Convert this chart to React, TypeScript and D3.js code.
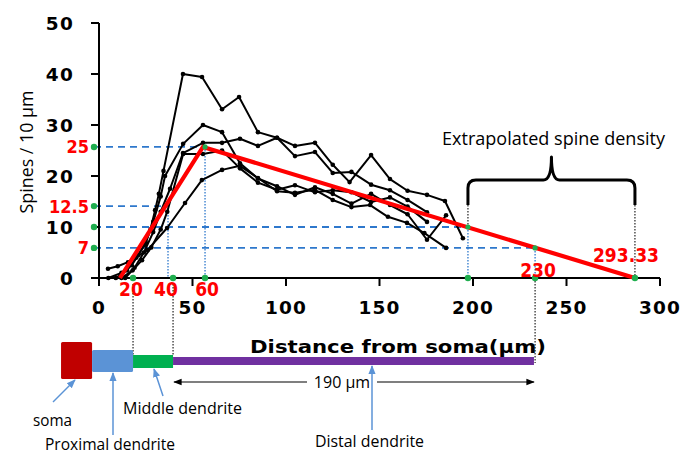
import React from 'react';
import * as d3 from 'd3';

type P = [number, number];

const xTicks = [0, 50, 100, 150, 200, 250, 300];
const yTicks = [0, 10, 20, 30, 40, 50];

const seriesA: P[] = [[5, 0], [12, 1], [17.5, 2.5], [21, 4.5], [24.5, 6.5], [27.5, 9.5], [30, 13.3], [32, 16.5], [34.5, 21], [44.9, 40], [55.1, 39.4], [65.8, 33.1], [74.9, 35.5], [85, 28.6], [95.2, 27.5], [104.8, 25.9], [115.5, 26.5], [125, 22.2], [134, 18.8], [145.5, 24.1], [155.6, 19.4], [165, 17.1], [175.4, 16.3], [185, 15.1], [194.6, 7.8]];
const seriesB: P[] = [[9, 0], [15, 1.5], [20, 4], [25, 7], [29, 11], [33, 16], [35.3, 20], [45, 26.3], [55.6, 30], [65.8, 28.6], [75.4, 22.5], [85, 19.5], [95.2, 18], [104.8, 16.3], [115.5, 17.8], [125, 16.5], [135, 14.6], [145.5, 16.5], [155.6, 14.3], [165, 12.5], [175.4, 7.5], [185.6, 12.3]];
const seriesC: P[] = [[14, 0], [19, 2], [24, 5], [29, 9], [33, 13], [38, 17.5], [44.9, 24.5], [55.6, 26.5], [65.8, 26.5], [75.4, 27.3], [85, 25.9], [95.2, 27.5], [104.8, 23.9], [115.5, 24.7], [125, 20.6], [135, 20.8], [145.5, 18.3], [155.6, 17.2], [165, 15.3], [175.4, 12.9]];
const seriesD: P[] = [[12, 0], [18, 1.5], [23, 3.5], [28, 6], [33, 9.5], [36.5, 13], [45, 24.3], [55.6, 24.3], [65.8, 25], [75.4, 21.5], [85, 18.7], [95.2, 17.3], [104.8, 18.2], [115.5, 16.8], [125, 17.2], [135, 16.8], [145.5, 14.9], [155.6, 15.8], [165, 14], [175.4, 11]];
const seriesE: P[] = [[4.8, 1.8], [10, 2.3], [15.5, 3.1], [26, 5.5], [36.4, 9.8], [46, 14.7], [55, 19.2], [65.8, 21.2], [75.4, 22], [85, 19.6], [95.2, 17], [104.8, 16.7], [115.5, 17.3], [125, 15.3], [135, 13.9], [145, 14.3], [154.5, 12], [164.7, 10.8], [174, 8.8], [185.6, 5.9]];
const allSeries = [seriesA, seriesB, seriesC, seriesD, seriesE];

const fitPoints: P[] = [[11.2, 0], [55.6, 25.7], [286.6, 0]];

const levelValues = [25.7, 14.1, 10, 5.9];
const levelLabels = ['25', '12.5', '', '7'];
const levelEnds = [55.6, 36.9, 197.3, 233.2];

const dropX = [36.9, 56.7, 197.3, 233.2];
const dropTop = [14.1, 25.7, 10, 5.9];

const axisDots = [18.2, 39.6, 56.7, 197.3, 233.2, 286.6];
const fitDots: P[] = [[56.7, 25.7], [197.3, 10], [233.2, 5.9]];

const markLabels = ['20', '40', '60', '230', '293.33'];
const markLabelX = [17.1, 35.8, 57.8, 234.8, 281.8];
const markLabelY = [-3.5, -3.5, -3.5, 0.2, 3.1];

const bracketFrom = 197.3;
const bracketTo = 286.6;

const segNames = ['soma', 'Proximal dendrite', 'Middle dendrite', 'Distal dendrite'];
const segFrom = [-20.3, -3.7, 18.2, 39.6];
const segTo = [-3.7, 18.2, 39.6, 232.6];
const segColors = ['#c00000', '#5b93d6', '#00b050', '#7030a0'];

export default function App() {
  const x = d3.scaleLinear().domain([0, 300]).range([99, 660]);
  const y = d3.scaleLinear().domain([0, 50]).range([278, 23]);
  const line = d3.line<P>().x(d => x(d[0])).y(d => y(d[1]));
  const blue = '#2e78cc';
  const green = '#1fae4e';
  const red = '#ff0000';
  const narrow = "'Liberation Sans Narrow', 'DejaVu Sans Condensed', 'Liberation Sans', sans-serif";
  const bold = "'DejaVu Sans', Verdana, sans-serif";
  const plain = "'Open Sans', 'Noto Sans', sans-serif";

  const bx0 = x(bracketFrom);
  const bx1 = x(bracketTo);
  const bm = (bx0 + bx1) / 2;
  const bY = 180;
  const bEnd = 205;
  const bTop = 157;
  const bracket = `M${bx0},${bEnd} V${bY + 8} Q${bx0},${bY} ${bx0 + 8},${bY} H${bm - 8} Q${bm},${bY} ${bm},${bTop} Q${bm},${bY} ${bm + 8},${bY} H${bx1 - 8} Q${bx1},${bY} ${bx1},${bY + 8} V${bEnd}`;

  const segTop = [342, 350, 355, 357];
  const segBot = [379, 372, 368, 365];

  return (
    <svg width={683} height={455} style={{ position: 'absolute', left: 0, top: 0, background: '#fff' }}>
      <defs>
        <marker id="ab" viewBox="0 0 10 10" refX="9" refY="5" markerWidth="7" markerHeight="7" orient="auto-start-reverse">
          <path d="M0,1 L10,5 L0,9 z" fill="#000" />
        </marker>
        <marker id="au" viewBox="0 0 10 10" refX="9" refY="5" markerWidth="6" markerHeight="6" orient="auto">
          <path d="M0,1 L10,5 L0,9 z" fill="#5b93d6" />
        </marker>
      </defs>

      {levelValues.map((v, i) => (
        <line key={'h' + i} x1={94} x2={x(levelEnds[i])} y1={y(v)} y2={y(v)} stroke={blue} strokeWidth={1.8} strokeDasharray="7,5" />
      ))}
      {dropX.map((d, i) => (
        <line key={'v' + i} x1={x(d)} x2={x(d)} y1={y(dropTop[i])} y2={y(0)} stroke={blue} strokeWidth={1.3} strokeDasharray="1.5,1.5" />
      ))}

      <line x1={bx0} x2={bx0} y1={bEnd} y2={y(10)} stroke="#222" strokeWidth={1.2} strokeDasharray="1.5,1.5" />
      <line x1={bx1} x2={bx1} y1={bEnd} y2={y(0)} stroke="#222" strokeWidth={1.2} strokeDasharray="1.5,1.5" />
      <line x1={x(233.2)} x2={x(233.2)} y1={y(0)} y2={363} stroke="#222" strokeWidth={1.2} strokeDasharray="1.5,1.5" />
      <line x1={x(18.2)} x2={x(18.2)} y1={284} y2={355} stroke="#222" strokeWidth={1.2} strokeDasharray="1.5,1.5" />
      <line x1={x(39.6)} x2={x(39.6)} y1={284} y2={355} stroke="#222" strokeWidth={1.2} strokeDasharray="1.5,1.5" />

      <line x1={99} x2={99} y1={y(50)} y2={y(0)} stroke="#000" strokeWidth={2} />
      <line x1={98} x2={x(300)} y1={y(0)} y2={y(0)} stroke="#000" strokeWidth={2} />
      {yTicks.map(t => (
        <g key={'yt' + t}>
          <line x1={91} x2={99} y1={y(t)} y2={y(t)} stroke="#000" strokeWidth={2} />
          <text x={74} y={y(t)} dy="0.36em" textAnchor="end" fontFamily={bold} fontWeight="bold" fontSize={18.5} fill="#000" letterSpacing={1.2}>{t}</text>
        </g>
      ))}
      {xTicks.map(t => (
        <g key={'xt' + t}>
          <line x1={x(t)} x2={x(t)} y1={y(0)} y2={y(0) + 8} stroke="#000" strokeWidth={2} />
          <text x={x(t)} y={314} textAnchor="middle" fontFamily={bold} fontWeight="bold" fontSize={18.5} fill="#000" letterSpacing={1.2}>{t}</text>
        </g>
      ))}
      <text transform="translate(33,152) rotate(-90)" textAnchor="middle" fontFamily={plain} fontSize={17.5} fill="#000" textLength={123} lengthAdjust="spacingAndGlyphs">Spines / 10 µm</text>

      {allSeries.map((s, i) => (
        <g key={'s' + i}>
          <path d={line(s) || ''} fill="none" stroke="#000" strokeWidth={2} strokeLinejoin="round" />
          {s.map((p, j) => (
            <circle key={j} cx={x(p[0])} cy={y(p[1])} r={2.3} fill="#000" />
          ))}
        </g>
      ))}

      <path d={line(fitPoints) || ''} fill="none" stroke={red} strokeWidth={4.2} strokeLinejoin="miter" />

      {levelValues.map((v, i) => <circle key={'gl' + i} cx={94} cy={y(v)} r={3.2} fill={green} />)}
      {axisDots.map((d, i) => <circle key={'ga' + i} cx={x(d)} cy={y(0)} r={3.2} fill={green} />)}
      {fitDots.map((p, i) => <circle key={'gf' + i} cx={x(p[0])} cy={y(p[1])} r={2.6} fill={green} />)}

      {levelLabels.map((t, i) => t ? (
        <text key={'rl' + i} x={89} y={y(levelValues[i])} dy="0.36em" textAnchor="end" fontFamily={narrow} fontWeight="bold" fontSize={18} fill={red}>{t}</text>
      ) : null)}
      {markLabels.map((t, i) => (
        <text key={'ml' + i} x={x(markLabelX[i])} y={y(markLabelY[i])} textAnchor="middle" fontFamily={narrow} fontWeight="bold" fontSize={19} fill={red}>{t}</text>
      ))}

      <path d={bracket} fill="none" stroke="#000" strokeWidth={3} strokeLinejoin="round" />
      <text x={442} y={145} fontFamily={plain} fontSize={19} fill="#000" textLength={223} lengthAdjust="spacingAndGlyphs">Extrapolated spine density</text>

      {segNames.map((n, i) => (
        <rect key={'seg' + i} x={x(segFrom[i])} y={segTop[i]} width={x(segTo[i]) - x(segFrom[i])} height={segBot[i] - segTop[i]} fill={segColors[i]} rx={i < 2 ? 1.5 : 0} />
      ))}
      <text x={250} y={353} fontFamily={bold} fontWeight="bold" fontSize={17} fill="#000" textLength={296} lengthAdjust="spacingAndGlyphs">Distance from soma(µm)</text>

      <line x1={307} x2={x(39.6) + 1} y1={382} y2={382} stroke="#000" strokeWidth={1.2} markerEnd="url(#ab)" />
      <line x1={377} x2={x(232.6)} y1={382} y2={382} stroke="#000" strokeWidth={1.2} markerEnd="url(#ab)" />
      <text x={342} y={388} textAnchor="middle" fontFamily={plain} fontSize={16} fill="#000">190 µm</text>

      <line x1={53} y1={402} x2={75} y2={380} stroke="#5b93d6" strokeWidth={1.5} markerEnd="url(#au)" />
      <text x={33} y={426} fontFamily={plain} fontSize={16} fill="#000" textLength={39} lengthAdjust="spacingAndGlyphs">{segNames[0]}</text>

      <line x1={113} y1={435} x2={113} y2={373} stroke="#5b93d6" strokeWidth={1.5} markerEnd="url(#au)" />
      <text x={45} y={450} fontFamily={plain} fontSize={16} fill="#000" textLength={130} lengthAdjust="spacingAndGlyphs">{segNames[1]}</text>

      <line x1={163} y1={396} x2={154} y2={369} stroke="#5b93d6" strokeWidth={1.5} markerEnd="url(#au)" />
      <text x={123} y={414} fontFamily={plain} fontSize={16} fill="#000" textLength={119} lengthAdjust="spacingAndGlyphs">{segNames[2]}</text>

      <line x1={372} y1={430} x2={372} y2={366} stroke="#5b93d6" strokeWidth={1.5} markerEnd="url(#au)" />
      <text x={315} y={447} fontFamily={plain} fontSize={16} fill="#000" textLength={109} lengthAdjust="spacingAndGlyphs">{segNames[3]}</text>
    </svg>
  );
}
